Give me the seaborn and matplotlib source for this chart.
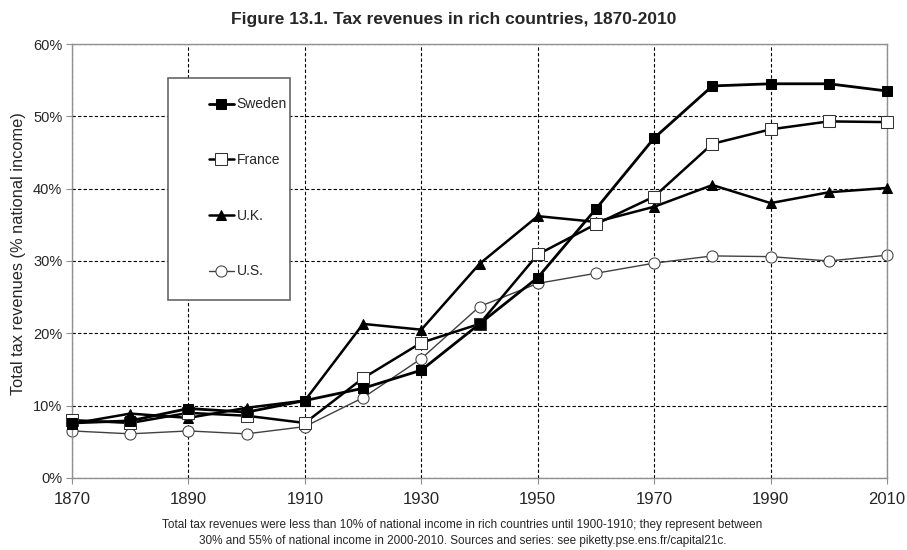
import pandas as pd
import matplotlib.pyplot as plt
import seaborn as sns
from matplotlib.patches import Rectangle
from matplotlib.ticker import PercentFormatter

# Data (% of national income)
years = [1870, 1880, 1890, 1900, 1910, 1920, 1930, 1940, 1950, 1960, 1970, 1980, 1990, 2000, 2010]
sweden = [7.6, 7.9, 9.6, 9.1, 10.7, 12.4, 14.9, 21.3, 27.7, 37.2, 47.0, 54.2, 54.5, 54.5, 53.5]
france = [8.0, 7.6, 9.0, 8.6, 7.6, 13.8, 18.7, 21.3, 30.9, 35.1, 38.9, 46.2, 48.2, 49.3, 49.2]
uk = [7.5, 8.9, 8.3, 9.7, 10.7, 21.3, 20.5, 29.6, 36.2, 35.4, 37.5, 40.5, 38.0, 39.5, 40.1]
us = [6.5, 6.1, 6.5, 6.1, 7.1, 11.1, 16.5, 23.7, 26.9, 28.3, 29.7, 30.7, 30.6, 30.0, 30.8]

df = pd.DataFrame({'year': years, 'Sweden': sweden, 'France': france, 'U.K.': uk, 'U.S.': us})
long_df = df.melt(id_vars='year', var_name='country', value_name='share')

sns.set_style('white')
plt.rcParams['font.family'] = ['Liberation Sans', 'DejaVu Sans']

fig, ax = plt.subplots(figsize=(9.07, 5.5), dpi=100)
fig.subplots_adjust(left=0.0794, right=0.978, bottom=0.131, top=0.92)

styles = {
    'Sweden': dict(marker='s', color='black', markerfacecolor='black', markeredgecolor='black', linewidth=2, markersize=7),
    'France': dict(marker='s', color='black', markerfacecolor='white', markeredgecolor='#333333', linewidth=1.8, markersize=8),
    'U.K.': dict(marker='^', color='black', markerfacecolor='black', markeredgecolor='black', linewidth=1.8, markersize=7),
    'U.S.': dict(marker='o', color='#404040', markerfacecolor='white', markeredgecolor='#404040', linewidth=1.0, markersize=8),
}
for i, country in enumerate(['Sweden', 'France', 'U.K.', 'U.S.']):
    sub = long_df[long_df['country'] == country]
    sns.lineplot(data=sub, x='year', y='share', ax=ax, label=country, clip_on=False, zorder=5 - i, **styles[country])

ax.set_xlim(1870, 2010)
ax.set_ylim(0, 60)
ax.set_xticks(range(1870, 2011, 20))
ax.set_yticks(range(0, 61, 10))
ax.yaxis.set_major_formatter(PercentFormatter(decimals=0))
ax.grid(True, color='black', linestyle=(0, (3, 2)), linewidth=0.8)
for s in ax.spines.values():
    s.set_color('#909090')
    s.set_linewidth(1.0)
ax.tick_params(axis='x', labelsize=12, length=4, color='#909090', direction='out', bottom=True, pad=6)
ax.tick_params(axis='y', labelsize=10.5, length=4, color='#909090', direction='out', left=True, pad=3)
ax.set_xlabel('')
ax.set_ylabel('Total tax revenues (% national income)', fontsize=11.8)
ax.yaxis.set_label_coords(-0.056, 0.517)
fig.suptitle('Figure 13.1. Tax revenues in rich countries, 1870-2010', fontsize=12.5, fontweight='bold',
             x=0.5, y=0.964, va='center')

# legend box drawn separately (text sits close to its right edge)
ax.add_patch(Rectangle((0.1178, 0.410), 0.1497, 0.5115, transform=ax.transAxes, facecolor='white',
                       edgecolor='#666666', linewidth=1.2, zorder=6, clip_on=False))
leg = ax.legend(loc='upper left', bbox_to_anchor=(0.168, 0.877), fontsize=10, frameon=False,
                labelspacing=3.0, handlelength=1.8, handletextpad=0.2, borderpad=0, borderaxespad=0)
leg.set_zorder(7)

fig.text(0.51, 0.031, 'Total tax revenues were less than 10% of national income in rich countries until 1900-1910; they represent between\n'
         '30% and 55% of national income in 2000-2010. Sources and series: see piketty.pse.ens.fr/capital21c.',
         ha='center', va='center', fontsize=8.5, linespacing=1.35)

plt.savefig('out.png', dpi=100)
